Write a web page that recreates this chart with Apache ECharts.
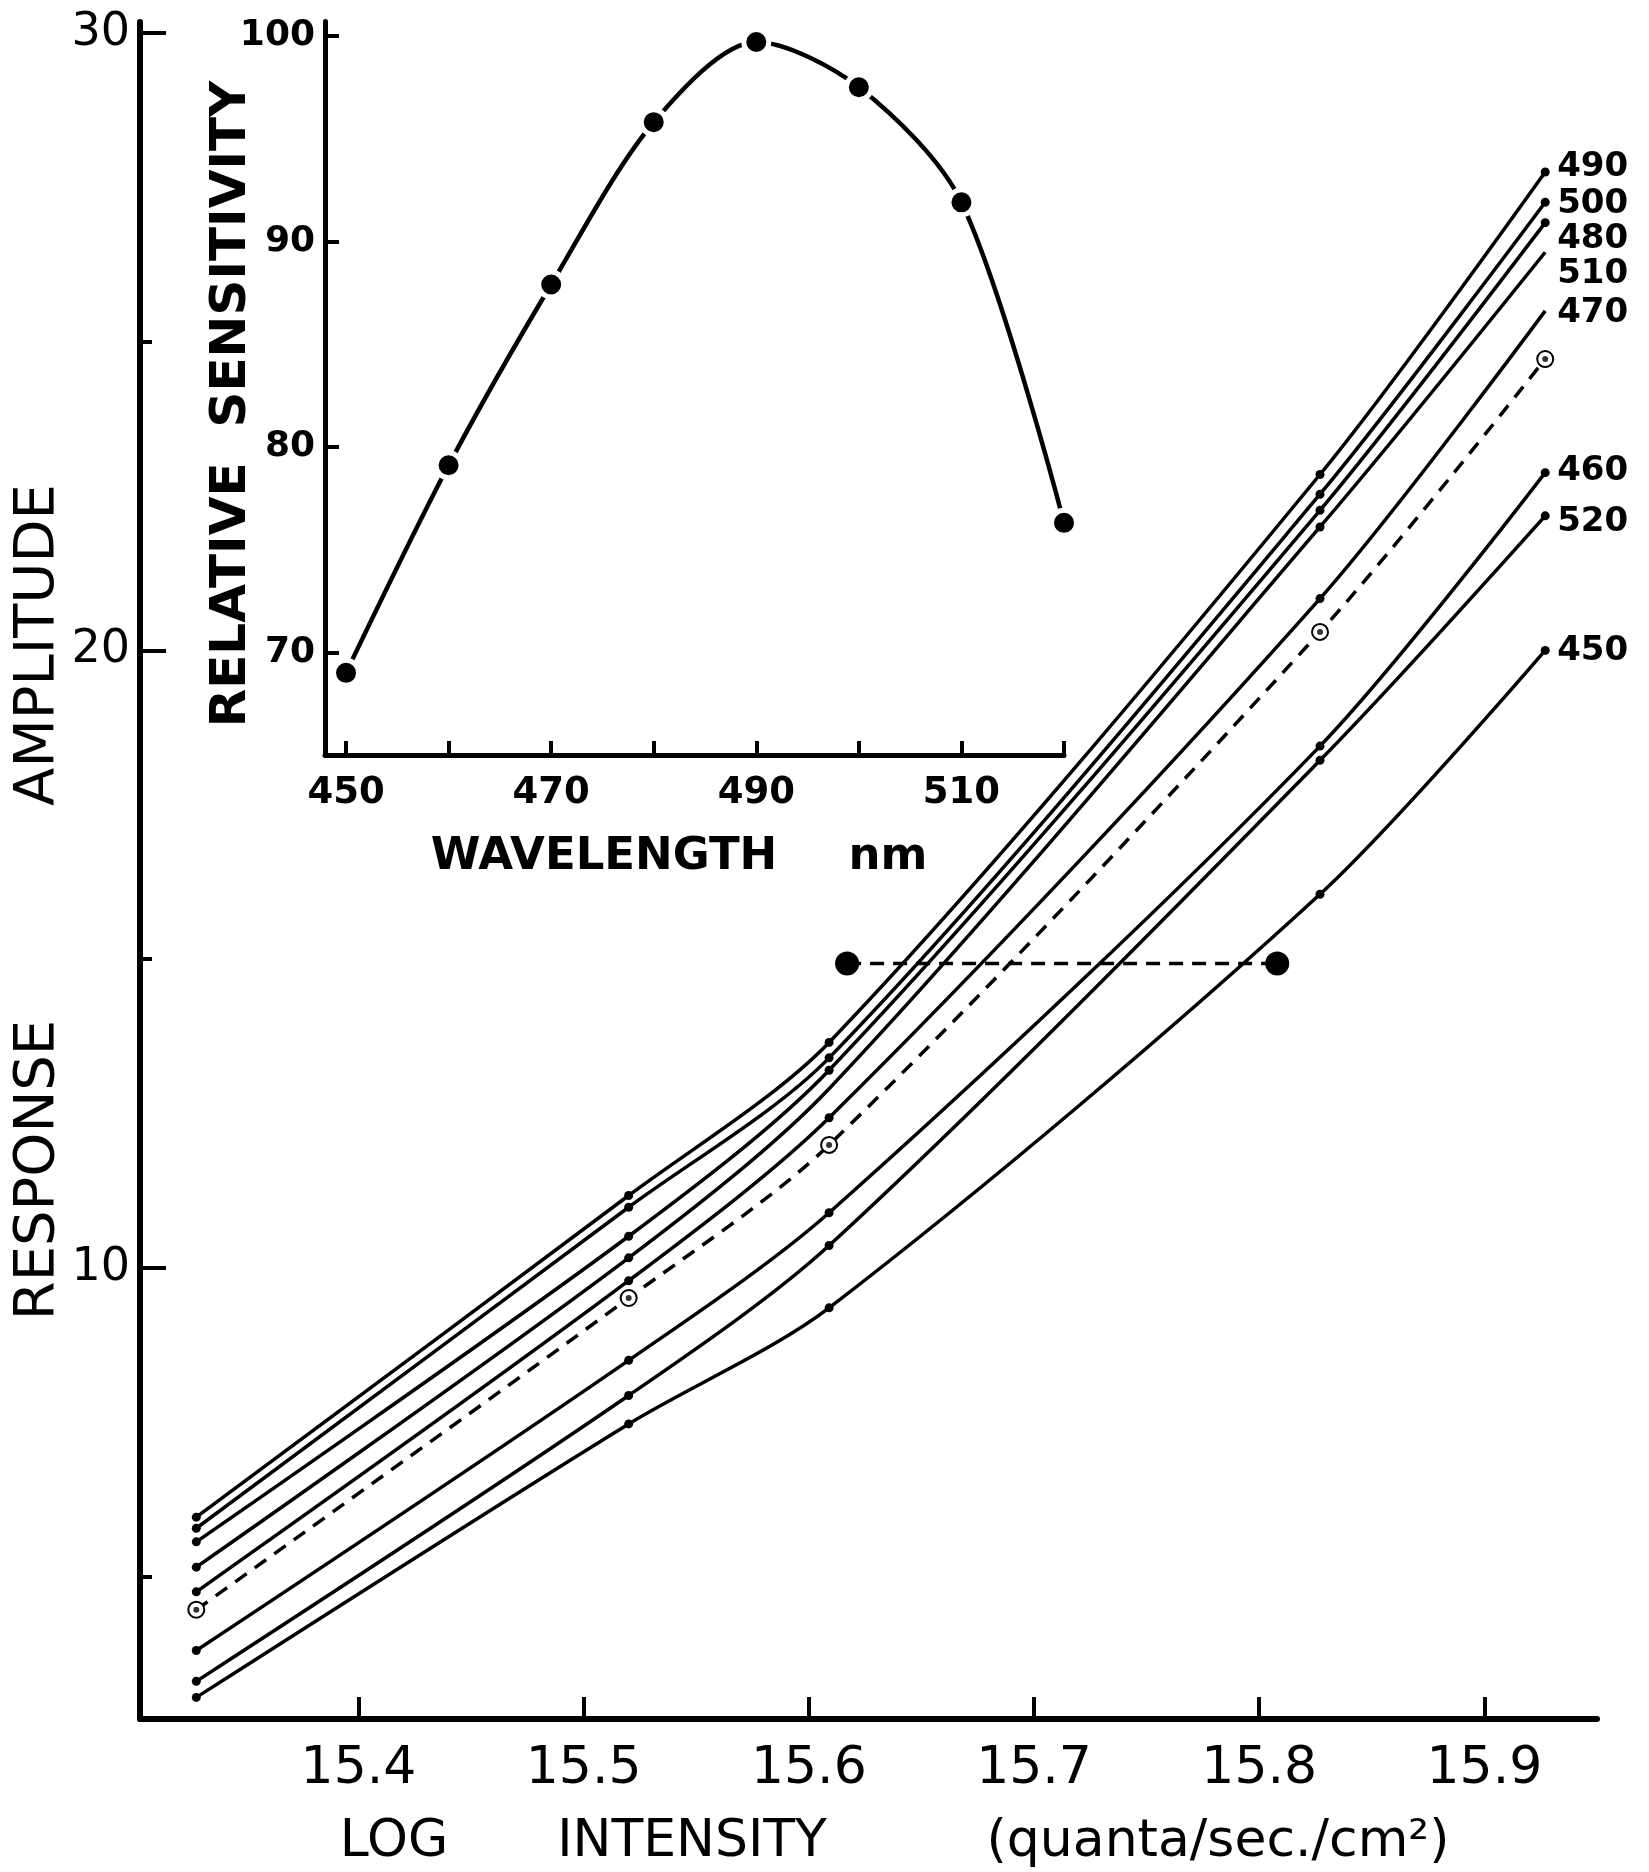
<!DOCTYPE html>
<html>
<head>
<meta charset="utf-8">
<script src="https://cdn.jsdelivr.net/npm/echarts@6/dist/echarts.min.js"></script>
<style>
  html, body { margin: 0; padding: 0; background: #fff; }
  #chart { width: 1649px; height: 1872px; }
</style>
</head>
<body>
<div id="chart"></div>
<script>
// Log intensities (quanta/sec./cm²) at which responses were measured
const logIntensity = [15.328, 15.520, 15.609, 15.827, 15.927];

// Response amplitude for each test wavelength (nm)
const resp490 = [5.96, 11.17, 13.65, 22.85, 27.75];
const resp500 = [5.78, 10.98, 13.40, 22.53, 27.26];
const resp480 = [5.56, 10.51, 13.20, 22.27, 26.93];
const resp510 = [5.15, 10.16, 12.90, 22.00, 26.45];
const resp470 = [4.75, 9.79, 12.43, 20.84, 25.50];
const respRepeat = [4.46, 9.51, 11.99, 20.30, 24.72];   // dashed run, open circles
const resp460 = [3.80, 8.50, 10.89, 18.45, 22.88];
const resp520 = [3.30, 7.93, 10.36, 18.22, 22.18];
const resp450 = [3.04, 7.47, 9.35, 16.05, 20.00];

// Criterion response used to compare the 490 and 450 curves
const criterionLog = [15.617, 15.808];
const criterionResponse = [14.93, 14.93];

// Inset: relative spectral sensitivity
const wavelengthNm = [450, 460, 470, 480, 490, 500, 510, 520];
const relSensitivity = [69.0, 79.1, 87.9, 95.8, 99.7, 97.5, 91.9, 76.3];

// Axis tick values
const logTicks = [15.4, 15.5, 15.6, 15.7, 15.8, 15.9];
const respMajorTicks = [10, 20, 30];
const respMinorTicks = [5, 15, 25];
const nmTicks = [450, 460, 470, 480, 490, 500, 510, 520];
const nmLabels = [450, 470, 490, 510];
const sensTicks = [70, 80, 90, 100];

const INK = '#000';
const FONT = '"DejaVu Sans", "Liberation Sans", sans-serif';

// solid curves: label text, values, indices without a plotted dot, label nudge (px)
const solidCurves = [
  { label: '490', values: resp490, bare: [], nudge: -5 },
  { label: '500', values: resp500, bare: [], nudge: 2 },
  { label: '480', values: resp480, bare: [], nudge: 17 },
  { label: '510', values: resp510, bare: [2, 4], nudge: 22 },
  { label: '470', values: resp470, bare: [4], nudge: 2 },
  { label: '460', values: resp460, bare: [], nudge: -1 },
  { label: '520', values: resp520, bare: [], nudge: 6 },
  { label: '450', values: resp450, bare: [], nudge: 1 }
];

const CURVE_SMOOTH = 0.3;
const series = [];

solidCurves.forEach(c => {
  series.push({
    type: 'line',
    name: c.label,
    xAxisIndex: 0, yAxisIndex: 0,
    smooth: CURVE_SMOOTH,
    symbol: 'circle',
    symbolSize: 9,
    showAllSymbol: true,
    lineStyle: { color: INK, width: 3.5 },
    itemStyle: { color: INK },
    z: 3,
    endLabel: {
      show: true,
      distance: 12,
      offset: [0, c.nudge],
      formatter: c.label,
      color: INK,
      fontFamily: FONT,
      fontWeight: 'bold',
      fontSize: 34
    },
    data: logIntensity.map((x, i) => {
      const item = { value: [x, c.values[i]] };
      if (c.bare.includes(i)) item.symbolSize = 0;
      return item;
    })
  });
});

// dashed repeat run with open circles
series.push({
  type: 'line',
  xAxisIndex: 0, yAxisIndex: 0,
  smooth: CURVE_SMOOTH,
  symbol: 'emptyCircle',
  symbolSize: 16,
  showAllSymbol: true,
  lineStyle: { color: INK, width: 3.5, type: [14, 10] },
  itemStyle: { color: INK, borderWidth: 2.5 },
  z: 3,
  data: logIntensity.map((x, i) => [x, respRepeat[i]])
});
series.push({
  type: 'scatter',
  xAxisIndex: 0, yAxisIndex: 0,
  symbolSize: 6,
  itemStyle: { color: INK },
  z: 4,
  data: logIntensity.map((x, i) => [x, respRepeat[i]])
});

// criterion line
series.push({
  type: 'line',
  xAxisIndex: 0, yAxisIndex: 0,
  symbol: 'circle',
  symbolSize: 24,
  lineStyle: { color: INK, width: 3.5, type: [14, 9] },
  itemStyle: { color: INK },
  z: 5,
  data: criterionLog.map((x, i) => [x, criterionResponse[i]])
});

// inset spectral sensitivity curve; white ring keeps the line off the dots
series.push({
  type: 'line',
  xAxisIndex: 1, yAxisIndex: 2,
  smooth: 0.3,
  symbol: 'circle',
  symbolSize: 25,
  showAllSymbol: true,
  lineStyle: { color: INK, width: 4.5 },
  itemStyle: { color: INK, borderColor: '#fff', borderWidth: 5 },
  z: 6,
  data: wavelengthNm.map((w, i) => [w, relSensitivity[i]])
});

const tickLabelMain = { color: INK, fontFamily: FONT, fontSize: 52 };
const tickLabelInset = { color: INK, fontFamily: FONT, fontSize: 37, fontWeight: 'bold' };

const option = {
  backgroundColor: '#fff',
  animation: false,
  grid: [
    { left: 140, top: 22, width: 1457, height: 1697 },
    { left: 325, top: 21.5, width: 739, height: 733.5 }
  ],
  xAxis: [
    {
      gridIndex: 0, type: 'value', min: 15.303, max: 15.95,
      axisLine: { onZero: false, lineStyle: { color: INK, width: 6, cap: 'round' } },
      axisTick: { show: true, inside: true, length: 22, customValues: logTicks,
                  lineStyle: { color: INK, width: 4 } },
      axisLabel: { ...tickLabelMain, margin: 24, customValues: logTicks,
                   formatter: v => v.toFixed(1) },
      splitLine: { show: false }
    },
    {
      gridIndex: 1, type: 'value', min: 447.95, max: 520,
      axisLine: { onZero: false, lineStyle: { color: INK, width: 5, cap: 'round' } },
      axisTick: { show: true, inside: true, length: 14, customValues: nmTicks,
                  lineStyle: { color: INK, width: 4 } },
      axisLabel: { ...tickLabelInset, margin: 20, customValues: nmLabels },
      splitLine: { show: false }
    }
  ],
  yAxis: [
    {
      gridIndex: 0, type: 'value', position: 'left', min: 2.69, max: 30.18,
      axisLine: { onZero: false, lineStyle: { color: INK, width: 6, cap: 'round' } },
      axisTick: { show: true, inside: true, length: 26, customValues: respMajorTicks,
                  lineStyle: { color: INK, width: 4 } },
      axisLabel: { color: INK, fontFamily: FONT, fontSize: 46, margin: 10,
                   customValues: respMajorTicks },
      splitLine: { show: false }
    },
    {
      gridIndex: 0, type: 'value', position: 'left', offset: 0, min: 2.69, max: 30.18,
      axisLine: { show: false, onZero: false },
      axisTick: { show: true, inside: true, length: 12, customValues: respMinorTicks,
                  lineStyle: { color: INK, width: 4 } },
      axisLabel: { show: false, customValues: respMinorTicks },
      splitLine: { show: false }
    },
    {
      gridIndex: 1, type: 'value', position: 'left', min: 65, max: 100.7,
      axisLine: { onZero: false, lineStyle: { color: INK, width: 5, cap: 'round' } },
      axisTick: { show: true, inside: true, length: 14, customValues: sensTicks,
                  lineStyle: { color: INK, width: 4 } },
      axisLabel: { ...tickLabelInset, fontSize: 36, margin: 10, customValues: sensTicks },
      splitLine: { show: false }
    }
  ],
  graphic: [
    { type: 'text', x: 38, y: 645, rotation: Math.PI / 2,
      style: { text: 'AMPLITUDE', font: '56px ' + FONT, fill: INK, align: 'center', verticalAlign: 'middle' } },
    { type: 'text', x: 38, y: 1170, rotation: Math.PI / 2,
      style: { text: 'RESPONSE', font: '56px ' + FONT, fill: INK, align: 'center', verticalAlign: 'middle' } },
    { type: 'text', x: 394, y: 1842,
      style: { text: 'LOG', font: '52px ' + FONT, fill: INK, align: 'center', verticalAlign: 'middle' } },
    { type: 'text', x: 692, y: 1842,
      style: { text: 'INTENSITY', font: '52px ' + FONT, fill: INK, align: 'center', verticalAlign: 'middle' } },
    { type: 'text', x: 1218, y: 1842,
      style: { text: '(quanta/sec./cm²)', font: '52px ' + FONT, fill: INK, align: 'center', verticalAlign: 'middle' } },
    { type: 'text', x: 232, y: 404, rotation: Math.PI / 2,
      style: { text: 'RELATIVE  SENSITIVITY', font: 'bold 50px ' + FONT, fill: INK, align: 'center', verticalAlign: 'middle' } },
    { type: 'text', x: 604, y: 857,
      style: { text: 'WAVELENGTH', font: 'bold 45px ' + FONT, fill: INK, align: 'center', verticalAlign: 'middle' } },
    { type: 'text', x: 888, y: 857,
      style: { text: 'nm', font: 'bold 45px ' + FONT, fill: INK, align: 'center', verticalAlign: 'middle' } }
  ],
  series: series
};

const chart = echarts.init(document.getElementById('chart'), null, { renderer: 'canvas' });
chart.setOption(option);
</script>
</body>
</html>
